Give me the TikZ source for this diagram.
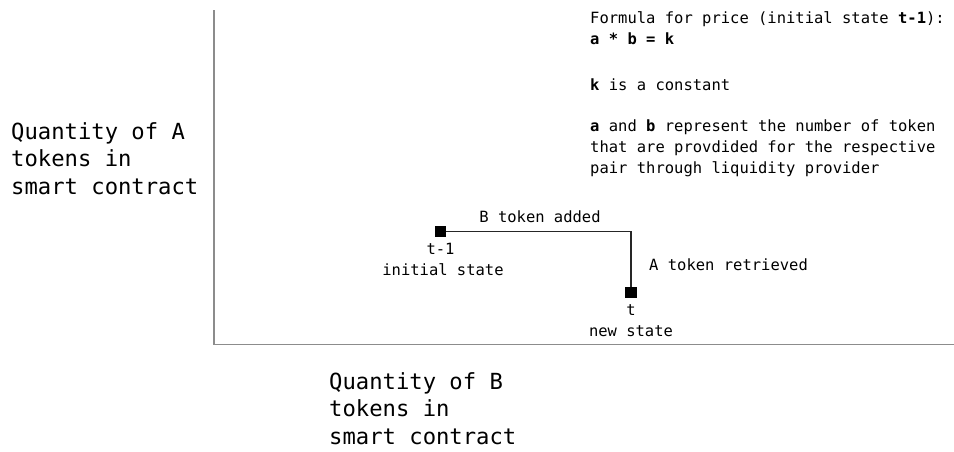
\documentclass[tikz,border=0pt]{standalone}
\usepackage{fontspec}
\setmonofont{DejaVu Sans Mono}
\begin{document}
\begin{tikzpicture}[x=1pt,y=-1pt,
  txt/.style={font=\ttfamily\fontsize{15.5}{21.3}\selectfont, inner sep=0pt},
  big/.style={font=\ttfamily\fontsize{22.2}{27.8}\selectfont, inner sep=0pt, align=left, anchor=north west},
  statebox/.style={fill=black, minimum size=11.5pt, inner sep=0pt},
  axis/.style={draw=black!45, line width=1.5pt},
  path/.style={draw=black!85, line width=1.5pt}]
\useasboundingbox (0,0) rectangle (954,451);

% axes
\coordinate (top) at (214,10);
\coordinate (origin) at (214,344.5);
\coordinate (right) at (954,344.5);
\draw[axis] (top) -- (origin) -- (right);

% axis labels
\node[big] (ylabel) at (11,122) {Quantity of A\\tokens in\\smart contract};
\node[big] (xlabel) at (329,372) {Quantity of B\\tokens in\\smart contract};

% states
\node[statebox] (s0) at (440.5,231.5) {};
\node[statebox] (s1) at (631,292.5) {};
\coordinate (corner) at (631,231.5);
\draw[path] (s0) -- (corner) -- (s1);

\node[txt, anchor=base] (addB) at (540,222) {B token added};
\node[txt, anchor=base west] (retA) at (649,270) {A token retrieved};
\node[txt, anchor=base] (t0a) at (440.5,254) {t-1};
\node[txt, anchor=base] (t0b) at (443,275) {initial state};
\node[txt, anchor=base] (t1a) at (631,315) {t};
\node[txt, anchor=base] (t1b) at (631,336) {new state};

% formula note
\node[txt, anchor=north west, align=left] (note) at (590,11)
  {Formula for price (initial state \textbf{t-1}):\\
   \textbf{a * b = k}\\[24.7pt]
   \textbf{k} is a constant\\[19.7pt]
   \textbf{a} and \textbf{b} represent the number of token\\
   that are provdided for the respective\\
   pair through liquidity provider};
\end{tikzpicture}
\end{document}
